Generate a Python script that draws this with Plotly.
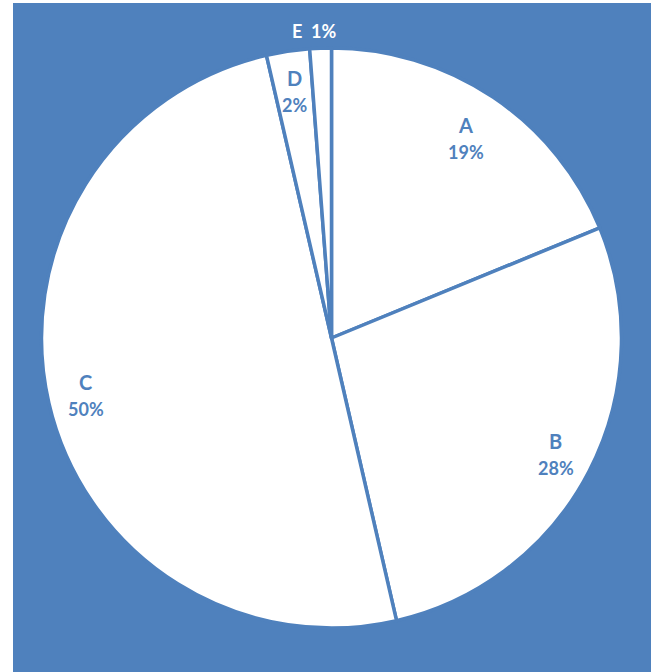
import numpy as np
import plotly.graph_objects as go

categories = ["A", "B", "C", "D", "E"]
values = [18.8, 27.6, 50.0, 2.4, 1.2]

BLUE = "#4F81BD"
W, H = 658, 672
CX, CY, R = 331.5, 338.0, 290.0

fig = go.Figure(go.Pie(
    labels=categories, values=values, sort=False, direction="clockwise",
    rotation=0, textinfo="none", hoverinfo="label+percent",
    marker=dict(colors=["white"] * len(values), line=dict(color=BLUE, width=3.5)),
    domain=dict(x=[(CX - R) / W, (CX + R) / W], y=[1 - (CY + R) / H, 1 - (CY - R) / H]),
    showlegend=False,
))

# label placement along slice bisectors
label_r = [0.83, 0.87, 0.87, 0.86, 1.06]
total = sum(values)
cum = np.cumsum([0] + values[:-1])
annotations = []
common = dict(xref="paper", yref="paper", showarrow=False, xanchor="center", yanchor="middle")
for i, (cat, v) in enumerate(zip(categories, values)):
    ang = np.deg2rad((cum[i] + v / 2) / total * 360)
    px = CX + label_r[i] * R * np.sin(ang)
    py = CY - label_r[i] * R * np.cos(ang)
    pct = f"{round(v / total * 100):.0f}%"
    if label_r[i] > 1:
        annotations.append(dict(x=(px - 5) / W, y=1 - py / H, text=f"{cat}\u00a0\u00a0{pct}",
                                font=dict(family="Lato", size=18, color="white", weight="bold"), **common))
    else:
        annotations.append(dict(x=px / W, y=1 - py / H, text=cat, yshift=13,
                                font=dict(family="Lato", size=20, color=BLUE, weight="bold"), **common))
        annotations.append(dict(x=px / W, y=1 - py / H, text=pct, yshift=-14,
                                font=dict(family="Lato", size=18, color=BLUE, weight="bold"), **common))

fig.update_layout(
    width=W, height=H, margin=dict(l=0, r=0, t=0, b=0),
    paper_bgcolor="white", plot_bgcolor="white",
    shapes=[dict(type="rect", xref="paper", yref="paper", x0=13 / W, x1=651 / W,
                 y0=0, y1=1 - 3 / H, fillcolor=BLUE, line=dict(width=0), layer="below")],
    annotations=annotations,
)
fig.write_html("out.html", config={"displayModeBar": False},
               post_script="document.body.style.margin='0';document.body.style.overflow='hidden';")
